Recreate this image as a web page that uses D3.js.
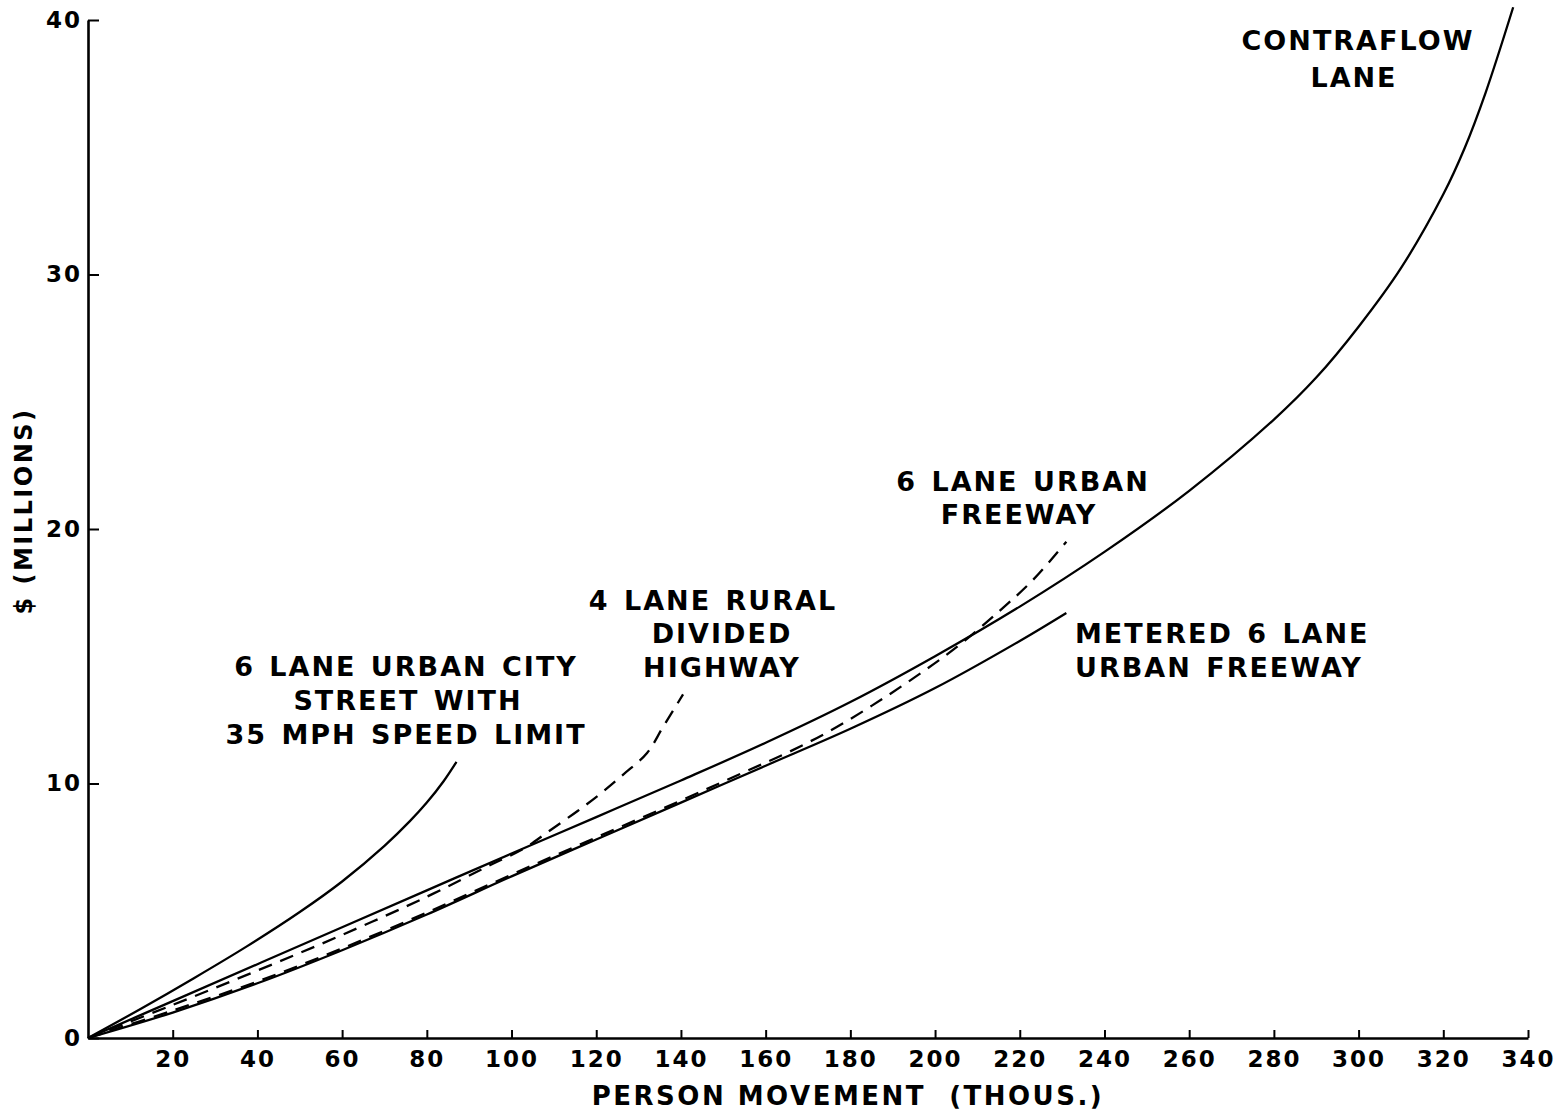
<!DOCTYPE html>
<html>
<head>
<meta charset="utf-8">
<script src="https://cdn.jsdelivr.net/npm/d3@7"></script>
<style>
  html, body { margin: 0; padding: 0; background: #fff; }
  svg { display: block; }
  text { font-family: "DejaVu Sans", "Liberation Sans", sans-serif; font-weight: bold; fill: #000; }
</style>
</head>
<body>
<svg id="chart" width="1563" height="1112"></svg>
<script>
// ---- data (x = person movement, thousands; y = $ millions) ----
const xTicks = [20, 40, 60, 80, 100, 120, 140, 160, 180, 200, 220, 240, 260, 280, 300, 320, 340];
const yTicks = [0, 10, 20, 30, 40];

const cityStreet = [[0,0],[12.5,1.15],[25,2.35],[37.5,3.6],[50,4.95],[60,6.15],[70,7.55],[76,8.52],[80,9.25],[84,10.1],[87,10.85]];
const contraflow = [[0,0],[20,1.45],[40,2.9],[60,4.35],[80,5.8],[100,7.25],[120,8.68],[140,10.12],[160,11.6],[180,13.2],[200,15.0],[220,16.95],[240,19.1],[260,21.5],[280,24.3],[290,25.95],[300,27.95],[310,30.25],[320,33.15],[325,34.95],[330,37.15],[336.5,40.5]];
const ruralHighway = [[0,0],[20,1.3],[40,2.65],[60,4.05],[80,5.55],[95,6.8],[103,7.45],[108.6,8.1],[115.6,8.92],[121,9.6],[126.5,10.37],[132,11.2],[135.7,12.2],[140.5,13.5]];
const urbanFreeway = [[0,0],[20,1.08],[40,2.22],[60,3.52],[80,4.93],[100,6.42],[120,7.88],[140,9.33],[155,10.45],[165,11.2],[175,12.05],[185,13.05],[195,14.15],[205,15.35],[215,16.75],[223,17.98],[231,19.5]];
const meteredFreeway = [[0,0],[20,1.0],[40,2.15],[60,3.45],[80,4.85],[100,6.35],[120,7.8],[140,9.25],[160,10.7],[180,12.15],[200,13.75],[220,15.6],[231,16.7]];

const series = [
  { name: "city", points: cityStreet, dashed: false },
  { name: "contraflow", points: contraflow, dashed: false },
  { name: "rural", points: ruralHighway, dashed: true },
  { name: "freeway", points: urbanFreeway, dashed: true },
  { name: "metered", points: meteredFreeway, dashed: false }
];

const labels = [
  { lines: ["CONTRAFLOW", "LANE"], x: [1358, 1354], y: [50, 87], anchor: "middle" },
  { lines: ["6 LANE URBAN", "FREEWAY"], x: [1023, 1019], y: [491, 524], anchor: "middle" },
  { lines: ["4 LANE RURAL", "DIVIDED", "HIGHWAY"], x: [713, 722, 722], y: [610, 643, 677], anchor: "middle" },
  { lines: ["6 LANE URBAN CITY", "STREET WITH", "35 MPH SPEED LIMIT"], x: [406, 408, 406], y: [676, 710, 744], anchor: "middle" },
  { lines: ["METERED 6 LANE", "URBAN FREEWAY"], x: [1075, 1075], y: [643, 677], anchor: "start" }
];

// ---- drawing ----
const svg = d3.select("#chart");
const x = d3.scaleLinear().domain([0, 340]).range([88, 1528]);
const y = d3.scaleLinear().domain([0, 40]).range([1038, 20]);

const line = d3.line()
  .x(d => x(d[0]))
  .y(d => y(d[1]))
  .curve(d3.curveCatmullRom.alpha(0.5));

svg.append("g").selectAll("path")
  .data(series)
  .join("path")
  .attr("d", d => line(d.points))
  .attr("fill", "none")
  .attr("stroke", "#000")
  .attr("stroke-width", 2.3)
  .attr("stroke-linecap", "butt")
  .attr("stroke-dasharray", d => d.dashed ? "14,9" : null);

// x axis
const xAxis = svg.append("g")
  .attr("transform", `translate(0,${y(0)})`)
  .call(d3.axisBottom(x).tickValues(xTicks).tickSizeInner(-8).tickSizeOuter(0).tickPadding(13).tickFormat(d3.format("d")));
xAxis.select(".domain").attr("stroke", "#000").attr("stroke-width", 2.6);
xAxis.selectAll(".tick line").attr("stroke", "#000").attr("stroke-width", 2);
xAxis.selectAll(".tick text")
  .style("font-family", "'DejaVu Sans', sans-serif")
  .style("font-weight", "bold")
  .style("font-size", "23px")
  .style("letter-spacing", "2px")
  .attr("fill", "#000");

// y axis
const yAxis = svg.append("g")
  .attr("transform", `translate(${x(0)},0)`)
  .call(d3.axisLeft(y).tickValues(yTicks).tickSizeInner(-11).tickSizeOuter(0).tickPadding(6).tickFormat(d3.format("d")));
yAxis.select(".domain").attr("stroke", "#000").attr("stroke-width", 2.6);
yAxis.selectAll(".tick line").attr("stroke", "#000").attr("stroke-width", 2);
yAxis.selectAll(".tick text")
  .style("font-family", "'DejaVu Sans', sans-serif")
  .style("font-weight", "bold")
  .style("font-size", "23px")
  .style("letter-spacing", "2px")
  .attr("fill", "#000");

// axis titles
svg.append("text")
  .attr("x", 848).attr("y", 1105)
  .attr("text-anchor", "middle")
  .attr("xml:space", "preserve")
  .style("font-size", "26px")
  .style("letter-spacing", "2.5px")
  .text("PERSON MOVEMENT  (THOUS.)");

svg.append("text")
  .attr("transform", "translate(32,511) rotate(-90)")
  .attr("text-anchor", "middle")
  .style("font-size", "24px")
  .style("letter-spacing", "2.5px")
  .text("$ (MILLIONS)");

// curve labels
labels.forEach(lb => {
  lb.lines.forEach((t, i) => {
    svg.append("text")
      .attr("x", lb.x[i]).attr("y", lb.y[i])
      .attr("text-anchor", lb.anchor)
      .style("font-size", "27px")
      .style("letter-spacing", "2px")
      .style("word-spacing", "3px")
      .text(t);
  });
});
</script>
</body>
</html>
